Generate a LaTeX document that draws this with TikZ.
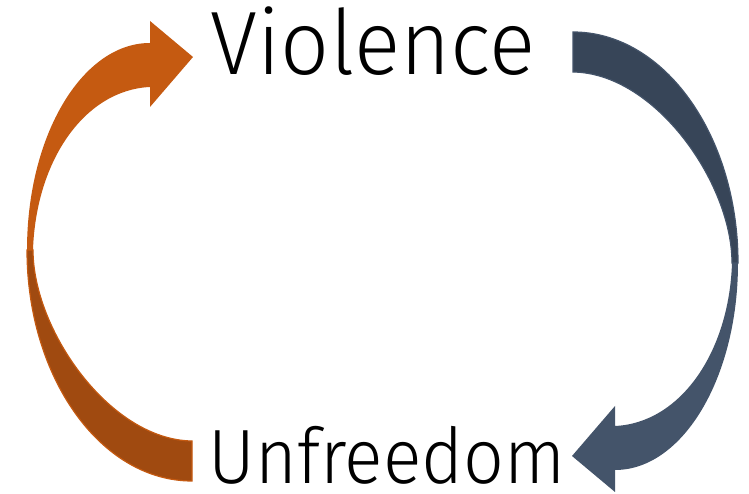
\documentclass[tikz,border=0pt]{standalone}
\usepackage{fontspec}
\newfontfamily\lightfont{Fira Sans Light}
\definecolor{orL}{HTML}{C55A11}
\definecolor{orD}{HTML}{A04A10}
\definecolor{blL}{HTML}{44546A}
\definecolor{blD}{HTML}{374558}
\tikzset{
  lbl/.style={anchor=base, inner sep=0pt, text=black},
  backpart/.style={fill=#1, draw=none},
  rim/.style={draw=#1, line width=1.2pt},
  headpart/.style={fill=#1, draw=none},
}
\newcommand{\curvedarrow}[2]{%
  \path[backpart=#1, rim=#2] (27,244) arc[start angle=180, end angle=270, x radius=165pt, y radius=231pt]
     -- (192,53) .. controls (110,54) and (33,164) .. (33,244) -- cycle;
  \path[headpart=#2] (27,244) arc[start angle=180, end angle=90, x radius=123pt, y radius=207pt]
     -- (150,473) -- (193,437) -- (150,387) -- (150,407)
     .. controls (85,404) and (36,334) .. (33,244) -- cycle;
}
\begin{document}
\begin{tikzpicture}[x=1pt,y=1pt]
\useasboundingbox (0,0) rectangle (749,494);
\fill[white] (0,0) rectangle (749,494);
\curvedarrow{orD}{orL}
\begin{scope}[rotate around={180:(382.5,237.5)}]
\curvedarrow{blD}{blL}
\end{scope}
\node[lbl, font=\lightfont\fontsize{90}{100}\selectfont] (v) at (373,419) {\scalebox{0.955}[1]{Violence}};
\node[lbl, font=\lightfont\fontsize{77}{86}\selectfont] (u) at (387,10) {\scalebox{0.93}[1]{Unfreedom}};
\end{tikzpicture}
\end{document}
